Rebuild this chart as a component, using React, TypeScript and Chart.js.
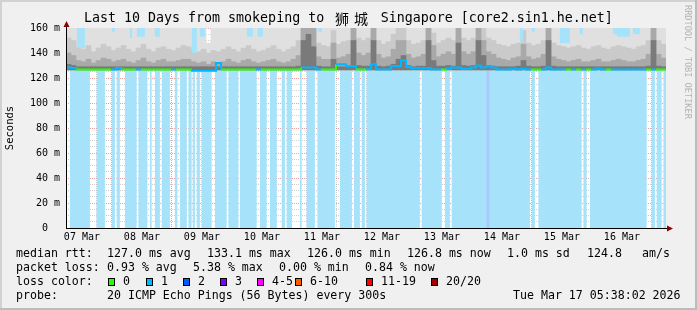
import React, { useEffect, useRef } from "react";
import { Chart, registerables } from "chart.js";
Chart.register(...registerables);

// ---------- data ----------
// x values are hours since 07 Mar 00:00
const X_MIN = 5.633; // 07 Mar 05:38
const X_MAX = 245.633; // 17 Mar 05:38
const BIN_HOURS = 2;
const dayLabels = ["07 Mar", "08 Mar", "09 Mar", "10 Mar", "11 Mar", "12 Mar", "13 Mar", "14 Mar", "15 Mar", "16 Mar"];
const yTickValues = [0, 20, 40, 60, 80, 100, 120, 140, 160];
const yTickLabels = ["0  ", "20 m", "40 m", "60 m", "80 m", "100 m", "120 m", "140 m", "160 m"];

// light blue area: [start hour, end hour] where present
const blueValue = 126.5;
const blueRuns: [number, number][] = [
  [7.2, 15.2], [17.9, 21.2], [23.9, 25.2], [25.9, 27.2], [29.2, 33.9], [34.6, 38.2], [39.2, 39.9],
  [41.2, 43.2], [43.9, 47.2], [49.2, 50.2], [51.2, 53.9], [54.6, 55.9], [56.3, 57.2], [57.9, 59.2],
  [59.9, 63.9], [65.2, 69.9], [70.6, 74.6], [75.2, 81.9], [83.2, 85.9], [87.2, 89.9], [91.9, 93.2],
  [93.9, 95.9], [99.2, 99.9], [101.9, 105.2], [106.2, 113.2], [115.2, 119.9], [120.8, 123.2],
  [123.9, 125.2], [125.9, 147.2], [147.9, 155.9], [157.2, 159.2], [159.9, 173.9], [173.9, 174.95],
  [174.95, 191.2], [191.9, 193.2], [194.6, 211.9], [212.6, 213.9], [215.2, 237.9], [239.9, 241.2],
  [241.9, 243.9], [244.6, 245.633],
];
const purpleRuns: [number, number][] = [[173.9, 174.95]];
// blue showing above the smoke at the top: [start, end, lower value]
const blueTopRuns: [number, number, number][] = [
  [10.0, 13.2, 144], [24.0, 25.2, 157], [31.2, 32.0, 152], [34.0, 37.2, 153], [41.2, 43.2, 153],
  [56.0, 58.0, 140], [59.2, 61.2, 153], [78.0, 80.4, 153], [82.4, 84.4, 153], [106.4, 108.0, 157],
  [187.2, 188.4, 149], [192.0, 193.2, 157], [203.2, 207.2, 148], [211.2, 212.4, 155],
  [224.4, 226.0, 155], [226.0, 231.2, 153], [232.4, 235.2, 155],
];

// smoke layers per 2 h bin (120 bins starting at X_MIN), upper edge in ms
const smokeTop = [
  165, 165, 165, 165, 165, 165, 165, 165, 165, 165, 165, 165, 165, 165, 165, 165, 165, 165, 165, 165,
  165, 165, 165, 165, 165, 165, 165, 165, 148, 165, 165, 165, 165, 165, 165, 165, 165, 165, 165, 165,
  165, 165, 165, 165, 165, 165, 165, 165, 165, 165, 165, 165, 165, 165, 165, 165, 165, 165, 165, 165,
  165, 165, 165, 165, 165, 165, 165, 165, 165, 165, 165, 165, 165, 165, 165, 165, 165, 165, 165, 165,
  165, 165, 165, 165, 165, 165, 165, 165, 165, 165, 165, 165, 165, 165, 165, 165, 165, 165, 165, 165,
  165, 165, 165, 165, 165, 165, 165, 165, 165, 165, 165, 165, 165, 165, 165, 165, 165, 165, 165, 165,
];
const smokeMid = [
  152, 150, 145, 143, 146, 141, 144, 147, 145, 142, 144, 146, 143, 141, 144, 147, 143, 141, 144, 145,
  143, 142, 144, 146, 145, 143, 141, 143, 140, 142, 141, 143, 145, 143, 141, 144, 146, 143, 141, 142,
  144, 146, 143, 141, 143, 145, 150, 165, 165, 165, 148, 146, 145, 158, 147, 149, 150, 165, 152, 150,
  152, 165, 150, 147, 149, 155, 160, 160, 150, 147, 148, 150, 165, 156, 148, 150, 152, 150, 165, 152,
  150, 152, 165, 160, 152, 150, 147, 146, 145, 147, 148, 158, 148, 146, 147, 150, 165, 148, 146, 145,
  144, 145, 146, 144, 143, 145, 146, 144, 143, 145, 146, 145, 144, 143, 145, 146, 150, 165, 150, 147,
];
const smokeDark = [
  140, 138, 134, 133, 135, 132, 134, 136, 135, 133, 134, 135, 133, 132, 134, 136, 133, 132, 134, 135,
  133, 133, 134, 135, 135, 133, 132, 133, 131, 133, 132, 133, 135, 133, 132, 134, 135, 133, 132, 133,
  134, 135, 133, 132, 133, 135, 138, 165, 165, 160, 137, 135, 135, 148, 136, 137, 139, 165, 140, 138,
  140, 165, 139, 136, 137, 143, 150, 150, 139, 136, 137, 139, 165, 146, 137, 139, 141, 139, 165, 141,
  139, 141, 165, 150, 141, 139, 136, 135, 134, 136, 137, 147, 137, 135, 136, 139, 165, 137, 135, 134,
  133, 134, 135, 133, 133, 134, 135, 133, 133, 134, 135, 134, 133, 133, 134, 135, 139, 165, 139, 136,
];
const smokeDeep = [
  131, 130, 129, 129, 129, 129, 129, 129, 129, 129, 129, 129, 129, 129, 129, 129, 129, 129, 129, 129,
  129, 129, 129, 129, 129, 129, 129, 129, 129, 129, 129, 129, 129, 129, 129, 129, 129, 129, 129, 129,
  129, 129, 129, 129, 129, 129, 129.5, 150, 155, 145, 129.5, 129, 129, 135, 129, 129, 129.5, 150, 130, 129.5,
  129.5, 150, 129.5, 129, 129.5, 131, 135, 138, 130, 129, 129.5, 129.5, 150, 134, 129.5, 129.5, 130, 129.5, 148, 130,
  129.5, 130, 150, 138, 130, 129.5, 129, 129, 129, 129, 129.5, 134, 129.5, 129, 129, 129.5, 150, 129.5, 129, 129,
  129, 129, 129, 129, 129, 129, 129, 129, 129, 129, 129, 129, 129, 129, 129, 129, 129.5, 150, 129.5, 129,
];
const medianRtt = [
  128.5, 128.0, 126.8, 126.8, 126.8, 126.8, 126.8, 126.8, 126.8, 126.8, 128.0, 126.8, 126.8, 126.8, 126.8, 126.8, 126.8, 126.8, 126.8, 126.8,
  126.8, 126.8, 126.8, 126.8, 126.8, 125.8, 125.8, 125.8, 125.8, 125.8, 132.0, 126.8, 126.8, 126.8, 126.8, 126.8, 126.8, 126.8, 126.8, 126.8,
  126.8, 126.8, 126.8, 126.8, 126.8, 126.8, 126.8, 128.5, 128.5, 128.5, 126.8, 126.8, 126.8, 126.8, 131.0, 131.0, 129.5, 129.5, 126.8, 126.8,
  127.0, 131.0, 126.8, 126.8, 126.8, 129.7, 129.5, 134.0, 128.9, 127.8, 127.8, 127.8, 127.8, 126.8, 126.8, 126.8, 127.5, 128.5, 128.5, 127.5,
  127.5, 128.5, 130.0, 128.5, 129.5, 128.5, 126.8, 126.8, 126.8, 127.5, 126.8, 127.5, 126.8, 126.8, 126.8, 126.8, 128.5, 126.8, 126.8, 126.8,
  126.8, 126.8, 126.8, 126.8, 126.8, 126.8, 127.5, 126.8, 126.8, 126.8, 126.8, 126.8, 126.8, 126.8, 126.8, 126.8, 126.8, 126.8, 126.8, 126.8,
];
const lossIndex = [
  1, 1, 0, 0, 0, 0, 0, 0, 0, 1, 1, 0, 0, 0, 1, 0, 0, 0, 0, 0,
  0, 1, 0, 0, 0, 1, 1, 1, 1, 1, 1, 0, 0, 0, 0, 0, 0, 0, 1, 0,
  0, 0, 0, 0, 0, 0, 0, 1, 1, 1, 1, 0, 0, 0, 1, 1, 1, 1, 0, 0,
  1, 1, 1, 1, 1, 1, 1, 1, 1, 1, 1, 1, 1, 1, 1, 0, 1, 1, 1, 1,
  1, 1, 1, 1, 1, 1, 1, 1, 1, 1, 1, 1, 1, 0, 0, 1, 1, 1, 1, 1,
  0, 1, 0, 1, 0, 1, 1, 1, 0, 1, 1, 1, 1, 1, 1, 1, 0, 1, 0, 0,
];

const lossColors = ["#26ff00", "#00b8ff", "#0059ff", "#7e00ff", "#ff00ff", "#ff5a00", "#ff0000", "#a10000"];
const lossLabels = ["0", "1", "2", "3", "4-5", "6-10", "11-19", "20/20"];

const titleLeft = "Last 10 Days from smokeping to";
const titleCjk = ["狮", "城"];
const titleRight = "Singapore [core2.sin1.he.net]";
const rttItems = ["127.0 ms avg", "133.1 ms max", "126.0 ms min", "126.8 ms now", "1.0 ms sd", "124.8", "am/s"];
const lossItems = ["0.93 % avg", "5.38 % max", "0.00 % min", "0.84 % now"];
const probeText = "20 ICMP Echo Pings (56 Bytes) every 300s";
const dateText = "Tue Mar 17 05:38:02 2026";

// ---------- layout (pixels) ----------
const W = 697, H = 310;
const rttX = [107, 207, 307, 407, 507, 587, 642];
const lossX = [107, 193, 279, 365];
const boxX = [108, 146, 183, 220, 257, 295, 366, 431];
const MONO = "'DejaVu Sans Mono', monospace";
const LEG_FONT = `11.6px ${MONO}`;

function runsToSteps(runs: [number, number][], v: number) {
  const pts: { x: number; y: number }[] = [{ x: X_MIN, y: 0 }];
  runs.forEach(([s, e]) => {
    pts.push({ x: s, y: v });
    pts.push({ x: e, y: 0 });
  });
  pts.push({ x: X_MAX, y: 0 });
  return pts;
}
function topRunsToSteps(runs: [number, number, number][]) {
  const pts: { x: number; y: number }[] = [{ x: X_MIN, y: 170 }];
  runs.forEach(([s, e, v]) => {
    pts.push({ x: s, y: v });
    pts.push({ x: e, y: 170 });
  });
  pts.push({ x: X_MAX, y: 170 });
  return pts;
}
const xGridHours: number[] = [];
for (let h = 6; h <= 240; h += 6) xGridHours.push(h);
const yGridValues: number[] = [];
for (let v = 0; v <= 160; v += 5) yGridValues.push(v);

const framePlugin = {
  id: "frame",
  beforeDraw(chart: any) {
    const { ctx, chartArea: a } = chart;
    ctx.save();
    ctx.fillStyle = "#f0f0f0";
    ctx.fillRect(0, 0, W, H);
    ctx.fillStyle = "#d2d2d2";
    ctx.fillRect(0, 0, W, 2);
    ctx.fillRect(0, 0, 2, H);
    ctx.fillStyle = "#bcbcbc";
    ctx.fillRect(0, H - 2, W, 2);
    ctx.fillRect(W - 2, 0, 2, H);
    ctx.fillStyle = "#ffffff";
    ctx.fillRect(a.left, a.top, a.right - a.left, a.bottom - a.top);
    ctx.restore();
  },
  afterDraw(chart: any) {
    const { ctx, chartArea: a } = chart;
    ctx.save();
    // axes with arrows
    ctx.strokeStyle = "#000";
    ctx.lineWidth = 1;
    ctx.beginPath();
    ctx.moveTo(a.left + 0.5, a.bottom);
    ctx.lineTo(a.left + 0.5, a.top - 5);
    ctx.moveTo(a.left, a.bottom + 0.5);
    ctx.lineTo(a.right + 2, a.bottom + 0.5);
    ctx.stroke();
    ctx.fillStyle = "#8b0000";
    ctx.beginPath();
    ctx.moveTo(a.left + 0.5, a.top - 7);
    ctx.lineTo(a.left - 2.5, a.top - 1);
    ctx.lineTo(a.left + 3.5, a.top - 1);
    ctx.closePath();
    ctx.fill();
    ctx.beginPath();
    ctx.moveTo(a.right + 7, a.bottom + 0.5);
    ctx.lineTo(a.right + 1, a.bottom - 2.5);
    ctx.lineTo(a.right + 1, a.bottom + 3.5);
    ctx.closePath();
    ctx.fill();

    // title
    ctx.fillStyle = "#000";
    ctx.textBaseline = "middle";
    ctx.textAlign = "left";
    ctx.font = `13.3px ${MONO}`;
    ctx.fillText(titleLeft, 84, 19);
    ctx.fillText(titleRight, 380.7, 19);
    ctx.textAlign = "center";
    ctx.font = `14px 'Noto Sans CJK SC'`;
    ctx.fillText(titleCjk[0], 342, 19);
    ctx.fillText(titleCjk[1], 361, 19);

    // y title
    ctx.save();
    ctx.translate(10, 128);
    ctx.rotate(-Math.PI / 2);
    ctx.font = `10.5px ${MONO}`;
    ctx.fillText("Seconds", 0, 0);
    ctx.restore();

    // watermark
    ctx.save();
    ctx.translate(687.5, 5);
    ctx.rotate(Math.PI / 2);
    ctx.textAlign = "left";
    ctx.fillStyle = "#b4b4b4";
    ctx.font = `8.6px ${MONO}`;
    ctx.fillText("RRDTOOL / TOBI OETIKER", 0, 0);
    ctx.restore();

    // legend
    ctx.textAlign = "left";
    ctx.fillStyle = "#000";
    ctx.font = LEG_FONT;
    const y1 = 254, y2 = 268, y3 = 282, y4 = 296;
    ctx.fillText("median rtt:", 16, y1);
    rttItems.forEach((t, i) => ctx.fillText(t, rttX[i], y1));
    ctx.fillText("packet loss:", 16, y2);
    lossItems.forEach((t, i) => ctx.fillText(t, lossX[i], y2));
    ctx.fillText("loss color:", 16, y3);
    lossLabels.forEach((t, i) => {
      ctx.fillStyle = lossColors[i];
      ctx.fillRect(boxX[i] + 0.5, y3 - 3.5, 6, 7);
      ctx.strokeStyle = "#000";
      ctx.strokeRect(boxX[i] + 0.5, y3 - 3.5, 6, 7);
      ctx.fillStyle = "#000";
      ctx.fillText(t, boxX[i] + 15, y3);
    });
    ctx.fillText("probe:", 16, y4);
    ctx.fillText(probeText, 107, y4);
    ctx.fillText(dateText, 513, y4);
    ctx.restore();
  },
};

export default function App() {
  const ref = useRef<HTMLCanvasElement | null>(null);
  useEffect(() => {
    document.body.style.margin = "0";
    const canvas = ref.current!;
    const binStarts = medianRtt.map((_, i) => X_MIN + i * BIN_HOURS);
    const binCenters = binStarts.map((s) => s + BIN_HOURS / 2);
    const medPts = medianRtt.map((v, i) => ({ x: binStarts[i], y: v }));
    medPts.push({ x: X_MAX, y: medianRtt[medianRtt.length - 1] });
    const bar = (arr: number[], color: string, order: number) => ({
      type: "bar" as const,
      data: arr.map((v, i) => ({ x: binCenters[i], y: [blueValue, v] })),
      backgroundColor: color,
      borderWidth: 0,
      barPercentage: 1,
      categoryPercentage: 1,
      grouped: false,
      order,
    });
    const chart = new Chart(canvas, {
      type: "line",
      data: {
        datasets: [
          {
            data: runsToSteps(blueRuns, blueValue),
            stepped: "before",
            borderWidth: 0,
            pointRadius: 0,
            fill: "origin",
            backgroundColor: "#a6e3fb",
            order: 10,
          } as any,
          {
            data: runsToSteps(purpleRuns, blueValue),
            stepped: "before",
            borderWidth: 0,
            pointRadius: 0,
            fill: "origin",
            backgroundColor: "#aac6fa",
            order: 9,
          } as any,
          bar(smokeTop, "#e0e0e0", 8),
          bar(smokeMid, "#cacaca", 7),
          bar(smokeDark, "#a9a9a9", 6),
          bar(smokeDeep, "#7a7a7a", 5),
          {
            data: topRunsToSteps(blueTopRuns),
            stepped: "before",
            borderWidth: 0,
            pointRadius: 0,
            fill: { value: 170 },
            backgroundColor: "#a6e3fb",
            order: 4,
          } as any,
          {
            data: medPts,
            stepped: "before",
            borderWidth: 2,
            pointRadius: 0,
            fill: false,
            borderColor: lossColors[1],
            segment: {
              borderColor: (c: any) => lossColors[lossIndex[Math.min(c.p0DataIndex, lossIndex.length - 1)]],
            },
            order: 1,
          } as any,
        ],
      },
      options: {
        animation: false,
        responsive: false,
        devicePixelRatio: 1,
        events: [],
        layout: { padding: { top: 28, right: W - 666, bottom: 0, left: 0 } },
        plugins: { legend: { display: false }, tooltip: { enabled: false }, title: { display: false } },
        scales: {
          x: {
            type: "linear",
            min: X_MIN,
            max: X_MAX,
            offset: false,
            z: 1,
            afterFit: (s: any) => { s.height = H - 228; },
            afterBuildTicks: (s: any) => { s.ticks = xGridHours.map((v) => ({ value: v })); },
            border: { display: false, dash: [1, 1] },
            grid: {
              offset: false,
              drawTicks: false,
              color: (c: any) => (c.tick && Math.round(c.tick.value) % 24 === 0 ? "rgba(225,60,60,0.5)" : "rgba(150,150,150,0.45)"),
              lineWidth: 1,
            },
            ticks: {
              autoSkip: false,
              maxRotation: 0,
              padding: 3,
              color: "#000",
              font: { family: MONO, size: 10 },
              callback: (v: any) => {
                const n = Math.round(Number(v));
                return n % 24 === 12 ? dayLabels[(n - 12) / 24] : "";
              },
            },
          },
          y: {
            type: "linear",
            min: 0,
            max: 160,
            offset: false,
            z: 1,
            afterFit: (s: any) => { s.width = 66; },
            afterBuildTicks: (s: any) => { s.ticks = yGridValues.map((v) => ({ value: v })); },
            border: { display: false, dash: [1, 1] },
            grid: {
              offset: false,
              drawTicks: false,
              color: (c: any) => (c.tick && Math.round(c.tick.value) % 20 === 0 ? "rgba(225,60,60,0.5)" : "rgba(150,150,150,0.45)"),
              lineWidth: 1,
            },
            ticks: {
              autoSkip: false,
              padding: 6,
              color: "#000",
              font: { family: MONO, size: 10 },
              callback: (v: any) => {
                const i = yTickValues.indexOf(Math.round(Number(v)));
                return i >= 0 ? yTickLabels[i] : "";
              },
            },
          },
        },
      },
      plugins: [framePlugin],
    } as any);
    return () => chart.destroy();
  }, []);
  return <canvas ref={ref} width={W} height={H} style={{ display: "block", width: W, height: H }} />;
}
